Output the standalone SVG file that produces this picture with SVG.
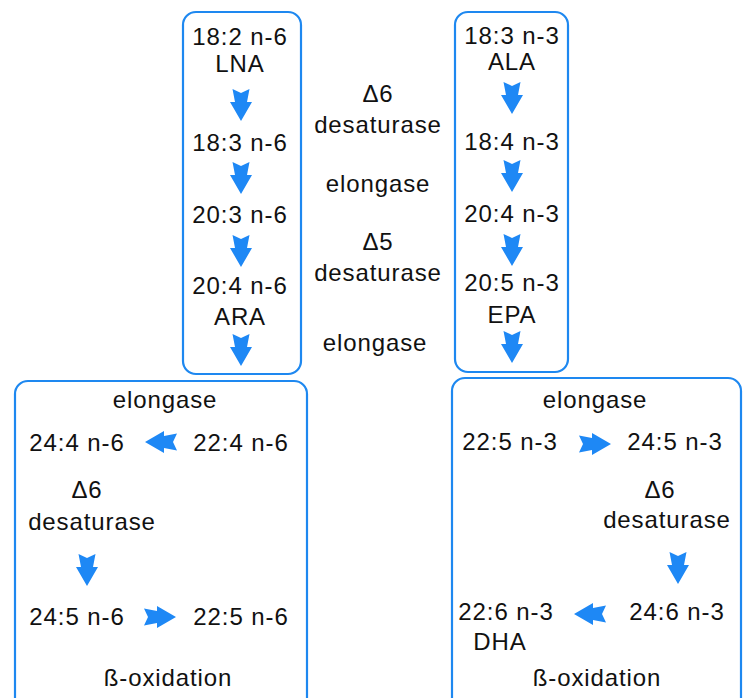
<svg xmlns="http://www.w3.org/2000/svg" width="743" height="698" viewBox="0 0 743 698">
<style>
.box{fill:none;stroke:#1e88f0;stroke-width:2.2}
text{font-family:"Liberation Sans",Arial,sans-serif;font-size:24px;letter-spacing:0.9px;fill:#111;text-anchor:middle}
.ar{fill:#1e88f5}
</style>
<defs>
<path id="down" class="ar" d="M-8.5,-16 L0,-12 L8.5,-16 L6,-3 L11,-3 L0,16 L-11,-3 L-6,-3 Z"/>
</defs>
<rect width="743" height="698" fill="#fff"/>
<g id="box-n6-top"><rect class="box" x="183" y="12" width="118" height="362" rx="13"/></g>
<g id="box-n3-top"><rect class="box" x="455" y="12" width="113" height="360" rx="13"/></g>
<g id="box-n6-bottom"><rect class="box" x="15" y="381" width="292" height="330" rx="13"/></g>
<g id="box-n3-bottom"><rect class="box" x="452" y="378" width="289" height="333" rx="13"/></g>

<g id="n6-lna"><text x="240" y="45">18:2 n-6</text><text x="240" y="72">LNA</text></g>
<g id="n6-183"><text x="240" y="151">18:3 n-6</text></g>
<g id="n6-203"><text x="240" y="223">20:3 n-6</text></g>
<g id="n6-ara"><text x="240" y="294">20:4 n-6</text><text x="240" y="325">ARA</text></g>

<g id="n3-ala"><text x="512" y="44">18:3 n-3</text><text x="512" y="70">ALA</text></g>
<g id="n3-184"><text x="512" y="150">18:4 n-3</text></g>
<g id="n3-204"><text x="512" y="222">20:4 n-3</text></g>
<g id="n3-epa"><text x="512" y="291">20:5 n-3</text><text x="512" y="323">EPA</text></g>

<g id="enzyme-labels">
<text x="378" y="102">Δ6</text><text x="378" y="133">desaturase</text>
<text x="378" y="192">elongase</text>
<text x="378" y="250">Δ5</text><text x="378" y="281">desaturase</text>
<text x="375" y="351">elongase</text>
</g>

<g id="bl-labels">
<text x="165" y="408">elongase</text>
<text x="87" y="498">Δ6</text><text x="92" y="530">desaturase</text>
<text x="168" y="686">ß-oxidation</text>
</g>
<g id="n6-224"><text x="241" y="451">22:4 n-6</text></g>
<g id="n6-244"><text x="77" y="451">24:4 n-6</text></g>
<g id="n6-245"><text x="77" y="625">24:5 n-6</text></g>
<g id="n6-225"><text x="241" y="625">22:5 n-6</text></g>

<g id="br-labels">
<text x="595" y="408">elongase</text>
<text x="660" y="498">Δ6</text><text x="667" y="528">desaturase</text>
<text x="597" y="686">ß-oxidation</text>
</g>
<g id="n3-225"><text x="510" y="450">22:5 n-3</text></g>
<g id="n3-245"><text x="675" y="450">24:5 n-3</text></g>
<g id="n3-246"><text x="677" y="620">24:6 n-3</text></g>
<g id="n3-dha"><text x="506" y="620">22:6 n-3</text><text x="500" y="650">DHA</text></g>

<g id="connectors">
<use href="#down" transform="translate(241,105)"/>
<use href="#down" transform="translate(241,178)"/>
<use href="#down" transform="translate(241,251)"/>
<use href="#down" transform="translate(241,350)"/>
<use href="#down" transform="translate(512,98)"/>
<use href="#down" transform="translate(512,176)"/>
<use href="#down" transform="translate(512,250)"/>
<use href="#down" transform="translate(512,347)"/>
<use href="#down" transform="translate(161,442) rotate(90)"/>
<use href="#down" transform="translate(87,570)"/>
<use href="#down" transform="translate(160,617) rotate(-90)"/>
<use href="#down" transform="translate(595,444) rotate(-90)"/>
<use href="#down" transform="translate(678,568)"/>
<use href="#down" transform="translate(590,614) rotate(90)"/>
</g>
</svg>
